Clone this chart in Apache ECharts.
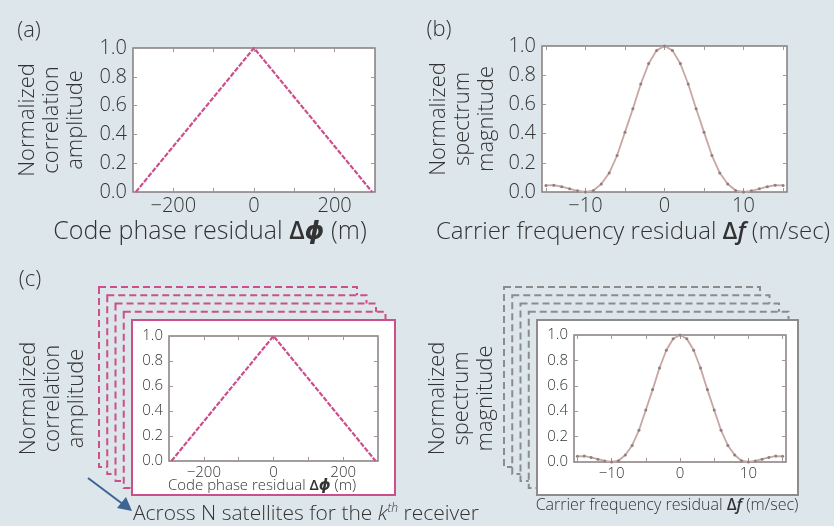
<!DOCTYPE html>
<html>
<head>
<meta charset="utf-8">
<script src="https://cdn.jsdelivr.net/npm/echarts@6/dist/echarts.min.js"></script>
<style>
  html, body { margin: 0; padding: 0; background: #dde6eb; }
  #chart { width: 834px; height: 526px; }
</style>
</head>
<body>
<div id="chart"></div>
<script>
// code phase correlation triangle (one chip ~293 m)
const codePhase = [-293, 0, 293];
const codeAmp = [0, 1, 0];

// carrier frequency spectrum
const freqResidual = [-15, -14, -13, -12, -11, -10, -9, -8, -7, -6, -5, -4, -3, -2, -1, 0,
    1, 2, 3, 4, 5, 6, 7, 8, 9, 10, 11, 12, 13, 14, 15];
const freqMag = [0.045, 0.047, 0.036, 0.022, 0.008, 0.0, 0.01, 0.055, 0.13, 0.25, 0.41, 0.57, 0.74, 0.88, 0.97, 1.0,
    0.97, 0.88, 0.74, 0.57, 0.41, 0.25, 0.13, 0.055, 0.01, 0.0, 0.008, 0.022, 0.036, 0.047, 0.045];

// tick labels / tick marks
const codeLabels = [-200, 0, 200];
const codeTicks = [-200, -100, 0, 100, 200];
const freqLabels = [-10, 0, 10];
const freqTicks = [-15, -10, -5, 0, 5, 10, 15];
const ampTicks = [0, 0.2, 0.4, 0.6, 0.8, 1.0];

const FONT = '"Open Sans", "DejaVu Sans", sans-serif';
const TEXT = '#333';
const BG = '#dde6eb';
const TICK = '#a09898';
const PINK = '#cc4f8c';
const GREY = '#8c8c8c';

const fmtNum = v => (v < 0 ? '\u2212' + Math.abs(v) : String(v));

let chart;

/**
 * x axes for one grid: bottom with labels, top with ticks only
 */
function xAxesFor(grid, min, max, labels, ticks, fs) {
    const tick = { inside: true, length: 4, customValues: ticks, lineStyle: { color: TICK } };
    return [{
        type: 'value', gridIndex: grid, min: min, max: max, position: 'bottom',
        axisLine: { show: false, onZero: false }, splitLine: { show: false }, axisTick: tick,
        axisLabel: {
            customValues: labels, formatter: fmtNum, fontSize: fs, color: TEXT,
            fontFamily: FONT, fontWeight: 300, margin: 4
        }
    }, {
        type: 'value', gridIndex: grid, min: min, max: max, position: 'top',
        axisLine: { show: false, onZero: false }, splitLine: { show: false }, axisTick: tick,
        axisLabel: { show: false }
    }];
}

/**
 * y axes for one grid: left with labels and rotated name, right with ticks only
 */
function yAxesFor(grid, name, gap, fs, nameFs) {
    const tick = { inside: true, length: 4, customValues: ampTicks, lineStyle: { color: TICK } };
    return [{
        type: 'value', gridIndex: grid, min: 0, max: 1, position: 'left',
        name: name, nameLocation: 'middle', nameGap: gap,
        nameTextStyle: { fontSize: nameFs, color: TEXT, fontFamily: FONT, fontWeight: 300, lineHeight: 24 },
        axisLine: { show: false, onZero: false }, splitLine: { show: false }, axisTick: tick,
        axisLabel: {
            customValues: ampTicks, formatter: v => v.toFixed(1), fontSize: fs, color: TEXT,
            fontFamily: FONT, fontWeight: 300, margin: 6
        }
    }, {
        type: 'value', gridIndex: grid, min: 0, max: 1, position: 'right',
        axisLine: { show: false, onZero: false }, splitLine: { show: false }, axisTick: tick,
        axisLabel: { show: false }
    }];
}

/**
 * stacked frames behind the (c) plots
 */
function frameStack(x, y, w, h, color) {
    const els = [];
    for (let k = 4; k >= 1; k--) {
        const left = x - 8.25 * k;
        const top = y - 8.25 * k;
        const right = x + w - 9.5 * k;
        const bottom = y + h - 7 * k;
        els.push({
            type: 'rect', z: -10 + (4 - k), silent: true,
            shape: { x: left, y: top, width: right - left, height: bottom - top },
            style: { fill: BG, stroke: color, lineWidth: 2, lineDash: [7, 4] }
        });
    }
    els.push({
        type: 'rect', z: -5, silent: true,
        shape: { x: x, y: y, width: w, height: h },
        style: { fill: '#fff', stroke: color, lineWidth: 2 }
    });
    return els;
}

function label(text, x, y, fs, extra) {
    return Object.assign({
        type: 'text', z: 10, silent: true,
        style: {
            text: text, x: x, y: y, fontSize: fs, fill: TEXT, fontFamily: FONT, fontWeight: 300,
            align: 'center', verticalAlign: 'middle'
        }
    }, extra || {});
}

function richName(parts, x, y, fs) {
    return {
        type: 'text', z: 10, silent: true,
        style: {
            text: parts, x: x, y: y, align: 'center', verticalAlign: 'middle',
            fontFamily: FONT, fontSize: fs, fill: TEXT,
            rich: {
                n: { fontSize: fs, fontFamily: FONT, fontWeight: 300, fill: TEXT },
                g: { fontSize: fs, fontFamily: FONT, fontWeight: 600, fill: TEXT },
                i: { fontSize: fs, fontFamily: FONT, fontWeight: 600, fontStyle: 'italic', fill: TEXT }
            }
        }
    };
}

function initChart() {
    chart = echarts.init(document.getElementById('chart'), null, { renderer: 'canvas' });

    const grids = [
        { left: 133, top: 48, width: 242, height: 144 },
        { left: 542, top: 46, width: 245, height: 146 },
        { left: 169, top: 336, width: 209, height: 125 },
        { left: 574, top: 335, width: 212, height: 127 }
    ].map(g => Object.assign(g, {
        show: true, backgroundColor: '#fff', borderColor: '#857d7d', borderWidth: 1.5
    }));

    const xAxis = [].concat(
        xAxesFor(0, -300, 300, codeLabels, codeTicks, 20),
        xAxesFor(1, -15.5, 15.5, freqLabels, freqTicks, 20),
        xAxesFor(2, -300, 300, codeLabels, codeTicks, 15),
        xAxesFor(3, -15.5, 15.5, freqLabels, freqTicks, 15)
    );
    const yAxis = [].concat(
        yAxesFor(0, 'Normalized\ncorrelation\namplitude', 45, 20, 22),
        yAxesFor(1, 'Normalized\nspectrum\nmagnitude', 43, 20, 22),
        yAxesFor(2, 'Normalized\ncorrelation\namplitude', 80, 15, 22),
        yAxesFor(3, 'Normalized\nspectrum\nmagnitude', 76, 15, 22)
    );

    const codeData = codePhase.map((x, i) => [x, codeAmp[i]]);
    const freqData = freqResidual.map((x, i) => [x, freqMag[i]]);

    const triangle = idx => ({
        type: 'line', xAxisIndex: idx * 2, yAxisIndex: idx * 2, data: codeData,
        showSymbol: false, silent: true,
        lineStyle: { color: PINK, width: 2.2, type: [5, 1.5] }
    });
    const spectrum = idx => ({
        type: 'line', xAxisIndex: idx * 2, yAxisIndex: idx * 2, data: freqData,
        symbol: 'circle', symbolSize: 3, silent: true,
        itemStyle: { color: '#8e7f80' },
        lineStyle: { color: '#c9a6a2', width: 1.8 }
    });

    const graphic = [].concat(
        frameStack(132, 320, 263, 175, PINK),
        frameStack(537, 320, 261, 175, GREY),
        [
            label('(a)', 29, 31, 22),
            label('(b)', 439, 30, 22),
            label('(c)', 30, 280, 22),
            richName('{n|Code phase residual }{g|\u0394}{i|\u03d5}{n| (m)}', 210, 232, 25),
            richName('{n|Carrier frequency residual }{g|\u0394}{i|f}{n| (m/sec)}', 633, 232, 24),
            richName('{n|Code phase residual }{g|\u0394}{i|\u03d5}{n| (m)}', 262, 486, 15),
            richName('{n|Carrier frequency residual }{g|\u0394}{i|f}{n| (m/sec)}', 667, 505, 16),
            {
                type: 'text', z: 10, silent: true,
                style: {
                    text: '{n|Across N satellites for the }{k|k}{s|th}{n| receiver}',
                    x: 133, y: 514, align: 'left', verticalAlign: 'middle',
                    rich: {
                        n: { fontSize: 21, fontFamily: FONT, fontWeight: 300, fill: TEXT },
                        k: { fontSize: 21, fontFamily: FONT, fontWeight: 300, fontStyle: 'italic', fill: TEXT },
                        s: { fontSize: 12, fontFamily: FONT, fontWeight: 300, fontStyle: 'italic', fill: TEXT, verticalAlign: 'top', padding: [0, 0, 10, 0] }
                    }
                }
            },
            {
                type: 'line', z: 10, silent: true,
                shape: { x1: 88, y1: 478, x2: 124, y2: 505 },
                style: { stroke: '#3d6592', lineWidth: 2 }
            },
            {
                type: 'polygon', z: 10, silent: true,
                shape: { points: [[132, 511], [117, 508], [126, 497]] },
                style: { fill: '#3d6592' }
            }
        ]
    );

    chart.setOption({
        backgroundColor: BG,
        animation: false,
        grid: grids,
        xAxis: xAxis,
        yAxis: yAxis,
        series: [triangle(0), spectrum(1), triangle(2), spectrum(3)],
        graphic: graphic
    });
}

document.addEventListener('DOMContentLoaded', function () {
    initChart();
    window.addEventListener('resize', function () {
        chart.resize();
    });
});
</script>
</body>
</html>
